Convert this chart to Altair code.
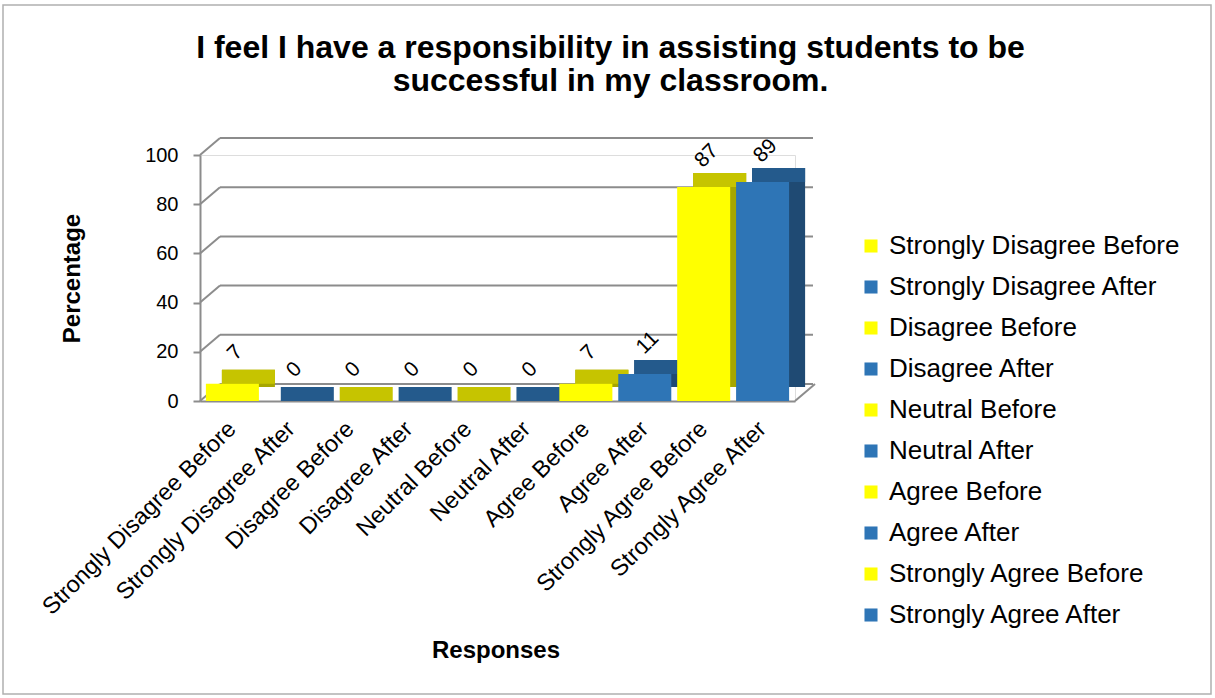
import altair as alt
import pandas as pd

categories = [
    "Strongly Disagree Before", "Strongly Disagree After",
    "Disagree Before", "Disagree After",
    "Neutral Before", "Neutral After",
    "Agree Before", "Agree After",
    "Strongly Agree Before", "Strongly Agree After",
]
values = [7, 0, 0, 0, 0, 0, 7, 11, 87, 89]
y_ticks = [0, 20, 40, 60, 80, 100]

front_palette = ["#FFFF00", "#2E75B6"] * 5
top_palette = ["#C6C400", "#245A8C"] * 5
side_palette = ["#A6A600", "#1F4A73"] * 5

df = pd.DataFrame({"Response": categories, "Percentage": values})
df["Label"] = df["Percentage"].astype(str)
grid_df = pd.DataFrame({"Percentage": y_ticks})

W, H = 595, 246
GX, GY = 20, 17      # depth of the back wall
BX, BY = 16, 14      # depth of the bars
FONT = "Liberation Sans"
GRID = "#8C8C8C"

yscale = alt.Scale(domain=[0, 100], nice=False, zero=True)
xscale = alt.Scale(domain=categories, paddingInner=0.1, paddingOuter=0.1)

xaxis = alt.Axis(
    title="Responses", labelAngle=315, labelAlign="right", labelBaseline="middle",
    labelFontSize=23.5, labelFont=FONT, labelColor="#000000", labelPadding=24,
    ticks=False, domainColor=GRID, domainWidth=2, grid=False,
    titleFont=FONT, titleFontSize=24, titleFontWeight="bold", titleColor="#000000",
    titleX=W / 2 - 2, titleY=249, titleBaseline="middle", titleAlign="center",
    labelLimit=400,
)
yaxis = alt.Axis(
    title="Percentage", values=y_ticks, grid=False,
    labelFontSize=20, labelFont=FONT, labelColor="#000000", labelPadding=15,
    tickColor=GRID, tickSize=7, tickWidth=2, domainColor=GRID, domainWidth=2,
    titleFont=FONT, titleFontSize=24, titleFontWeight="bold", titleColor="#000000",
    titleX=-128, titleY=H / 2, titleAngle=270, titleBaseline="middle", titleAlign="center",
)

X = alt.X("Response:N", sort=categories, scale=xscale, axis=xaxis)
Y = alt.Y("Percentage:Q", scale=yscale, axis=yaxis)

border = alt.Chart(alt.Data(values=[{}])).mark_rect(
    fill=None, stroke="#B0B0B0", strokeWidth=1.5
).encode(
    x=alt.value(-197), x2=alt.value(1011), y=alt.value(-150), y2=alt.value(539)
)

grid_back = alt.Chart(grid_df).mark_rule(color=GRID, strokeWidth=2, yOffset=-GY).encode(
    y=Y, x=alt.value(GX), x2=alt.value(W + 18),
)
grid_diag = alt.Chart(grid_df).mark_rule(color=GRID, strokeWidth=2, y2Offset=-GY).encode(
    y=Y, y2="Percentage:Q", x=alt.value(0), x2=alt.value(GX),
)
floor_diag = alt.Chart(alt.Data(values=[{"Percentage": 0}])).mark_rule(
    color=GRID, strokeWidth=2, y2Offset=-GY
).encode(
    y=Y, y2="Percentage:Q", x=alt.value(W), x2=alt.value(W + GX),
)

side = alt.Chart(df).mark_bar(xOffset=BX, yOffset=-BY, y2Offset=-BY).encode(
    x=X, y=Y,
    color=alt.Color("Response:N", scale=alt.Scale(domain=categories, range=side_palette), legend=None),
)
top = alt.Chart(df).mark_bar(xOffset=BX, yOffset=-BY, y2Offset=0).encode(
    x=X, y=Y, y2="Percentage:Q",
    color=alt.Color("Response:N", scale=alt.Scale(domain=categories, range=top_palette), legend=None),
)

front = alt.Chart(df).mark_bar().encode(
    x=X, y=Y,
    color=alt.Color(
        "Response:N",
        scale=alt.Scale(domain=categories, range=front_palette),
        legend=alt.Legend(
            title=None, orient="none", legendX=658, legendY=78,
            symbolType="square", symbolSize=170, symbolStrokeWidth=0,
            labelFontSize=26, labelFont=FONT, labelColor="#000000",
            rowPadding=15, labelOffset=5, labelLimit=400,
        ),
    ),
)

labels = alt.Chart(df).mark_text(
    angle=315, fontSize=21, font=FONT, align="center", baseline="middle",
    yOffset=-31, xOffset=3, color="#000000",
).encode(x=X, y=Y, text="Label:N")

chart = alt.layer(
    border, grid_back, grid_diag, floor_diag, side, top, front, labels
).resolve_scale(color="independent").properties(
    width=W, height=H,
    autosize=alt.AutoSizeParams(type="none"),
    padding={"left": 200, "top": 155, "right": 1215 - 200 - W, "bottom": 698 - 155 - H},
    title=alt.TitleParams(
        ["I feel I have a responsibility in assisting students to be",
         "successful in my classroom."],
        font=FONT, fontSize=32, fontWeight="bold", color="#000000",
        anchor="middle", frame="group", dx=113, offset=0, dy=94, lineHeight=33,
    ),
).configure_view(stroke=None).configure(background="#FFFFFF")

chart.save("out.html", embed_options={"renderer": "svg", "actions": False})
